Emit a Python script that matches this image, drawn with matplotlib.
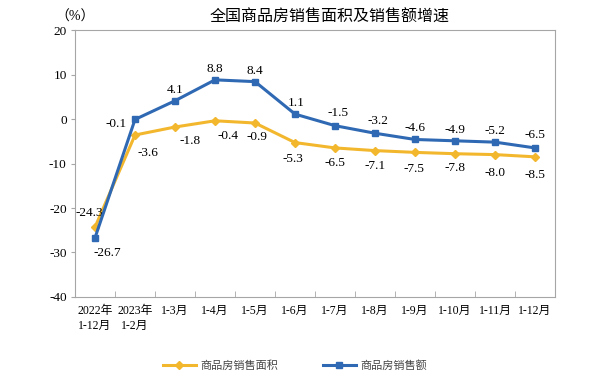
import numpy as np
import matplotlib.pyplot as plt
from matplotlib.ticker import FixedLocator

plt.rcParams['font.family'] = ['Liberation Serif', 'Noto Sans CJK SC']
plt.rcParams['axes.unicode_minus'] = False

months = ['2022年\n1-12月', '2023年\n1-2月', '1-3月', '1-4月', '1-5月', '1-6月',
          '1-7月', '1-8月', '1-9月', '1-10月', '1-11月', '1-12月']
area = [-24.3, -3.6, -1.8, -0.4, -0.9, -5.3, -6.5, -7.1, -7.5, -7.8, -8.0, -8.5]
amount = [-26.7, -0.1, 4.1, 8.8, 8.4, 1.1, -1.5, -3.2, -4.6, -4.9, -5.2, -6.5]

# label offsets in points
area_off = [(-4, 10), (9, -13), (11, -10), (9, -11), (1.5, -10), (-1.5, -12),
            (0, -11), (0, -11), (-1, -12), (0, -10), (0, -13), (0, -13)]
amount_off = [(9, -11), (-14, -3), (0, 8), (0, 8), (0, 8), (1, 8),
              (2, 9), (2, 9), (0, 8), (0, 8), (0, 8), (0, 9)]

blue = '#2F69B3'
yellow = '#F3B72E'
grey = '#A6A6A6'
lab_font = ['Liberation Serif', 'Noto Sans CJK SC']

fig = plt.figure(figsize=(6.02, 3.78), dpi=100)
ax = fig.add_axes([0.1246, 0.2143, 0.7974, 0.7063])

x = np.arange(len(months))
ax.plot(x, area, color=yellow, lw=2.2, marker='D', ms=4.5, label='商品房销售面积', zorder=3)
ax.plot(x, amount, color=blue, lw=2.2, marker='s', ms=4.5, label='商品房销售额', zorder=4)

for i, v in enumerate(amount):
    ax.annotate(f'{v:.1f}', (i, v), xytext=amount_off[i], textcoords='offset points',
                ha='center', va='center', fontsize=9.5, family=lab_font)
for i, v in enumerate(area):
    ax.annotate(f'{v:.1f}', (i, v), xytext=area_off[i], textcoords='offset points',
                ha='center', va='center', fontsize=9.5, family=lab_font)

ax.set_xlim(-0.5, len(months) - 0.5)
ax.set_ylim(-40, 20)
ax.set_yticks(range(-40, 21, 10))
ax.set_xticks(x)
ax.set_xticklabels(months, fontsize=8.5, linespacing=1.3)
ax.xaxis.set_minor_locator(FixedLocator(np.arange(0.5, len(months) - 0.5, 1)))
ax.tick_params(axis='x', which='major', length=0, pad=6)
ax.tick_params(axis='x', which='minor', direction='in', length=4, color=grey)
ax.tick_params(axis='y', direction='out', length=3, color=grey, labelsize=9.5, pad=3)

for s in ax.spines.values():
    s.set_color(grey)
    s.set_linewidth(0.8)

fig.text(0.548, 0.955, '全国商品房销售面积及销售额增速', ha='center', va='center',
         fontsize=11.5, family='Noto Sans CJK SC')
fig.text(0.1246, 0.955, '（%）', ha='center', va='center', fontsize=10,
         family=lab_font)

leg = fig.legend(loc='center', bbox_to_anchor=(0.49, 0.034), ncol=2, frameon=False,
                 handlelength=3.0, columnspacing=4.0, handletextpad=0.4,
                 prop={'family': 'Noto Sans CJK SC', 'size': 8})
for t in leg.get_texts():
    t.set_color('#444444')

fig.savefig('out.png', dpi=100)
